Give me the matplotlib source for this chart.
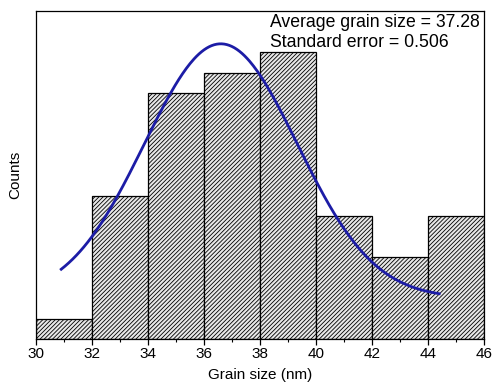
import numpy as np
import matplotlib
matplotlib.use("Agg")
import matplotlib.pyplot as plt

# Histogram data
bin_edges = [30, 32, 34, 36, 38, 40, 42, 44, 46]
counts = [1, 7, 12, 13, 14, 6, 4, 6]

# Gaussian fit parameters
fit_xc = 36.6
fit_w = 2.73
fit_A = 12.4
fit_y0 = 2.0
fit_xmin = 30.9
fit_xmax = 44.4

avg_text = "Average grain size = 37.28"
err_text = "Standard error = 0.506"

plt.rcParams['font.family'] = ['Liberation Sans', 'DejaVu Sans']
plt.rcParams['hatch.linewidth'] = 0.6
plt.rcParams['hatch.color'] = '#585858'

fig = plt.figure(figsize=(4.96, 3.92), dpi=100)
ax = fig.add_axes([0.0726, 0.1352, 0.9032, 0.8367])

left = bin_edges[:-1]
widths = np.diff(bin_edges)
ax.bar(left, counts, width=widths, align='edge', facecolor='#e8e8e8',
       edgecolor='black', linewidth=0.9, hatch='////////')

xs = np.linspace(fit_xmin, fit_xmax, 300)
ys = fit_y0 + fit_A * np.exp(-(xs - fit_xc) ** 2 / (2 * fit_w ** 2))
ax.plot(xs, ys, color='#1c1ca6', linewidth=2.0)

ax.set_xlim(30, 46)
ax.set_ylim(0, 16)
ax.set_xticks(range(30, 47, 2))
ax.set_xticks(range(31, 46, 2), minor=True)
ax.set_yticks([])
ax.tick_params(axis='x', which='major', direction='out', length=4, width=0.9,
               labelsize=11, pad=2)
ax.tick_params(axis='x', which='minor', direction='out', length=2, width=0.8)
for s in ax.spines.values():
    s.set_linewidth(0.9)

ax.set_xlabel("Grain size (nm)", fontsize=11, labelpad=5)
ax.set_ylabel("Counts", fontsize=11, labelpad=10)

ax.text(270 / 496, 1 - 27 / 392, avg_text,
        transform=fig.transFigure, ha='left', va='baseline', fontsize=12.7)
ax.text(270 / 496, 1 - 47 / 392, err_text,
        transform=fig.transFigure, ha='left', va='baseline', fontsize=12.7)

fig.savefig("out.png", dpi=100)
